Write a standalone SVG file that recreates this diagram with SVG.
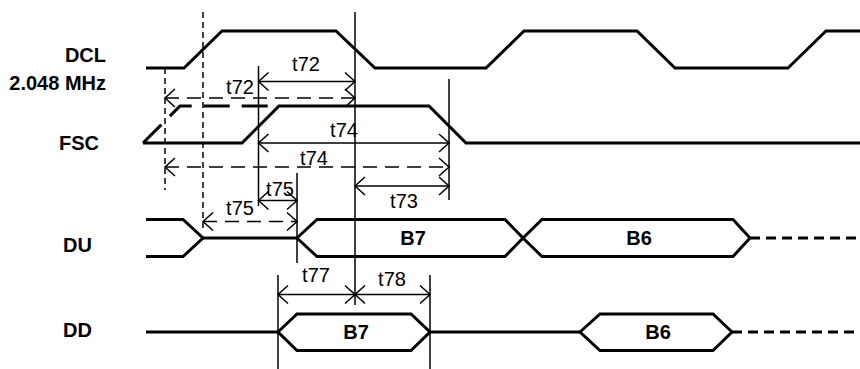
<svg xmlns="http://www.w3.org/2000/svg" width="860" height="369" viewBox="0 0 860 369">
<style>
.sig{fill:none;stroke:#000;stroke-width:3;stroke-linejoin:miter}
.sigd{fill:none;stroke:#000;stroke-width:3;stroke-dasharray:10,6}
.fscd{fill:none;stroke:#000;stroke-width:3;stroke-dasharray:26,12}
.thin{fill:none;stroke:#000;stroke-width:1.5}
.vd{fill:none;stroke:#000;stroke-width:1.5;stroke-dasharray:6,4}
.arr{fill:none;stroke:#000;stroke-width:1.5;marker-start:url(#ah);marker-end:url(#ah)}
.arrd{fill:none;stroke:#000;stroke-width:1.5;stroke-dasharray:14,8;marker-start:url(#ah);marker-end:url(#ah)}
.lbl{font-family:"Liberation Sans",Arial,sans-serif;font-weight:bold;font-size:20px;fill:#000}
.t{font-family:"Liberation Sans",Arial,sans-serif;font-size:20px;fill:#000;text-anchor:middle}
.b{font-family:"Liberation Sans",Arial,sans-serif;font-weight:bold;font-size:20px;fill:#000;text-anchor:middle}
</style>
<defs>
<marker id="ah" viewBox="-12 -12 14 24" refX="0" refY="0" markerWidth="14" markerHeight="24" markerUnits="userSpaceOnUse" orient="auto-start-reverse">
<path d="M-10,-9 L0,0 L-10,9" fill="none" stroke="#000" stroke-width="1.5"/>
</marker>
</defs>
<g id="labels">
<text class="lbl" x="106" y="62" text-anchor="end">DCL</text>
<text class="lbl" x="106" y="90" text-anchor="end">2.048 MHz</text>
<text class="lbl" x="59" y="150">FSC</text>
<text class="lbl" x="63" y="252">DU</text>
<text class="lbl" x="63" y="337">DD</text>
</g>
<g id="DCL">
<polyline class="sig" points="146,68 184,68 222,31 336,31 375,68 486,68 524,31 637,31 675,68 788,68 826,31 860,31"/>
</g>
<g id="FSC">
<polyline class="sig" points="143,143 242,143 279,106 429,106 466,143 860,143"/>
<polyline class="fscd" points="143,143 180,106 279,106"/>
</g>
<g id="DU">
<polyline class="sig" points="146,219.5 183,219.5 203,238 183,256.5 146,256.5"/>
<line class="sig" x1="203" y1="238" x2="297" y2="238"/>
<polygon class="sig" points="297,238 317,219.5 505,219.5 523,238 505,256.5 317,256.5"/>
<polygon class="sig" points="523,238 542,219.5 733,219.5 750,238 733,256.5 542,256.5"/>
<line class="sigd" x1="750" y1="238" x2="860" y2="238"/>
<text class="b" x="413" y="245">B7</text>
<text class="b" x="639" y="245">B6</text>
</g>
<g id="DD">
<line class="sig" x1="146" y1="332" x2="278" y2="332"/>
<polygon class="sig" points="278,332 297,314 411,314 430,332 411,350.5 297,350.5"/>
<line class="sig" x1="430" y1="332" x2="580" y2="332"/>
<polygon class="sig" points="580,332 600,314 713,314 732,332 713,350.5 600,350.5"/>
<line class="sigd" x1="732" y1="332" x2="860" y2="332"/>
<text class="b" x="356" y="339">B7</text>
<text class="b" x="658" y="339">B6</text>
</g>
<g id="connectors">
<line class="vd" x1="165" y1="68" x2="165" y2="190"/>
<line class="vd" x1="203" y1="12" x2="203" y2="228"/>
<line class="thin" x1="355" y1="12" x2="355" y2="305"/>
<line class="thin" x1="258.5" y1="66" x2="258.5" y2="206"/>
<line class="thin" x1="449" y1="79" x2="449" y2="200"/>
<line class="thin" x1="297" y1="173" x2="297" y2="263"/>
<line class="thin" x1="278" y1="275" x2="278" y2="369"/>
<line class="thin" x1="430" y1="275" x2="430" y2="369"/>
<line class="arr" x1="258.5" y1="81.5" x2="355" y2="81.5"/>
<line class="arrd" x1="165" y1="98" x2="355" y2="98"/>
<line class="arr" x1="258.5" y1="143" x2="449" y2="143"/>
<line class="arrd" x1="165" y1="167" x2="449" y2="167"/>
<line class="arr" x1="355" y1="186" x2="449" y2="186"/>
<line class="arr" x1="258.5" y1="200.5" x2="297" y2="200.5"/>
<line class="arrd" x1="203" y1="221.5" x2="297" y2="221.5"/>
<line class="arr" x1="278" y1="294.5" x2="355" y2="294.5"/>
<line class="arr" x1="355" y1="294.5" x2="430" y2="294.5"/>
</g>
<g id="timing-labels">
<text class="t" x="306" y="71">t72</text>
<text class="t" x="240" y="94">t72</text>
<text class="t" x="344" y="137">t74</text>
<text class="t" x="314" y="165">t74</text>
<text class="t" x="404" y="208">t73</text>
<text class="t" x="280" y="196">t75</text>
<text class="t" x="240" y="215">t75</text>
<text class="t" x="316" y="282">t77</text>
<text class="t" x="392" y="286">t78</text>
</g>
</svg>
